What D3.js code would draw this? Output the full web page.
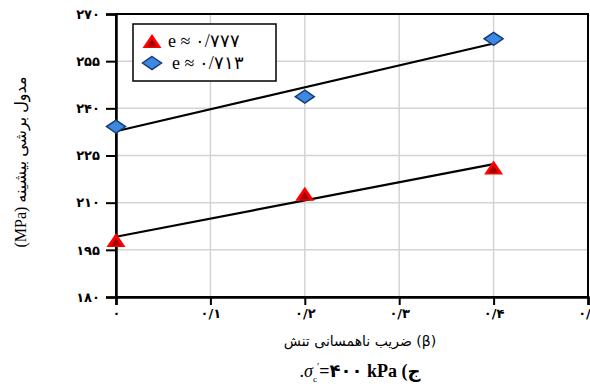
<!DOCTYPE html>
<html>
<head>
<meta charset="utf-8">
<script src="https://cdn.jsdelivr.net/npm/d3@7"></script>
<style>
  body { margin: 0; background: #fff; }
  svg { display: block; }
</style>
</head>
<body>
<div id="chart"></div>
<script>
// data
const beta = [0, 0.2, 0.4];
const gmaxE777 = [198.1, 212.8, 221.2];
const gmaxE713 = [234.2, 243.7, 262.1];
const seriesNames = ["e ≈ ۰/۷۷۷", "e ≈ ۰/۷۱۳"];

const xTicks = [0, 0.1, 0.2, 0.3, 0.4, 0.5];
const xTickLabels = ["۰", "۰/۱", "۰/۲", "۰/۳", "۰/۴", "۰/۵"];
const yTicks = [180, 195, 210, 225, 240, 255, 270];
const yTickLabels = ["۱۸۰", "۱۹۵", "۲۱۰", "۲۲۵", "۲۴۰", "۲۵۵", "۲۷۰"];

const W = 590, H = 391;
const margin = {top: 14, right: 2, bottom: 94, left: 116};
const width = W - margin.left - margin.right, height = H - margin.top - margin.bottom;

const svg = d3.select("#chart").append("svg")
  .attr("width", W).attr("height", H);

const g = svg.append("g")
  .attr("transform", `translate(${margin.left},${margin.top})`);

const xScale = d3.scaleLinear().domain([0, 0.5]).range([0, width]);
const yScale = d3.scaleLinear().domain([180, 270]).range([height, 0]);

// grid
g.append("g").selectAll("line")
  .data(yTicks.slice(1, -1))
  .join("line")
  .attr("x1", 0).attr("x2", width)
  .attr("y1", d => yScale(d)).attr("y2", d => yScale(d))
  .attr("stroke", "#d4d4d4").attr("stroke-width", 1.5);

g.append("g").selectAll("line")
  .data(xTicks.slice(1, -1))
  .join("line")
  .attr("y1", 0).attr("y2", height)
  .attr("x1", d => xScale(d)).attr("x2", d => xScale(d))
  .attr("stroke", "#d4d4d4").attr("stroke-width", 1.5);

// frame
g.append("rect")
  .attr("width", width).attr("height", height)
  .attr("fill", "none").attr("stroke", "#000").attr("stroke-width", 2);

// axes
const xAxis = d3.axisBottom(xScale)
  .tickValues(xTicks)
  .tickFormat((d, i) => xTickLabels[i])
  .tickSize(8).tickPadding(4);
const yAxis = d3.axisLeft(yScale)
  .tickValues(yTicks)
  .tickFormat((d, i) => yTickLabels[i])
  .tickSize(10).tickPadding(6);

const gx = g.append("g").attr("transform", `translate(0,${height})`).call(xAxis);
const gy = g.append("g").call(yAxis);

[gx, gy].forEach(a => {
  a.select(".domain").attr("stroke", "#000").attr("stroke-width", 2.5);
  a.selectAll(".tick line").attr("stroke", "#000").attr("stroke-width", 2);
  a.selectAll(".tick text")
    .attr("fill", "#000")
    .style("font-family", "'DejaVu Sans', sans-serif")
    .style("font-weight", "bold")
    .style("font-size", "13px");
});

// least-squares trend lines
function fit(xs, ys) {
  const mx = d3.mean(xs), my = d3.mean(ys);
  const slope = d3.sum(xs, (x, i) => (x - mx) * (ys[i] - my)) / d3.sum(xs, x => (x - mx) ** 2);
  return x => my + slope * (x - mx);
}

const line = d3.line().x(d => xScale(d[0])).y(d => yScale(d[1]));
[gmaxE777, gmaxE713].forEach(vals => {
  const f = fit(beta, vals);
  const ends = d3.extent(beta);
  g.append("path")
    .attr("d", line(ends.map(x => [x, f(x)])))
    .attr("fill", "none").attr("stroke", "#000").attr("stroke-width", 2.2);
});

// markers
const diaPath = "M0,-6.5L9.5,0L0,6.5L-9.5,0Z";

function triangle(sel) {
  sel.append("path").attr("d", "M0,-7L9.5,7L-9.5,7Z")
    .attr("fill", "#ff0000");
  sel.append("path").attr("d", "M0,-2L5,5.5L-5,5.5Z")
    .attr("fill", "#a00000");
}
function diamond(sel) {
  sel.append("path").attr("d", diaPath)
    .attr("fill", "#3f88e0").attr("stroke", "#163c78").attr("stroke-width", 1.5);
}

g.append("g").selectAll("g")
  .data(beta.map((b, i) => [b, gmaxE777[i]]))
  .join("g")
  .attr("transform", d => `translate(${xScale(d[0])},${yScale(d[1])})`)
  .call(triangle);

g.append("g").selectAll("g")
  .data(beta.map((b, i) => [b, gmaxE713[i]]))
  .join("g")
  .attr("transform", d => `translate(${xScale(d[0])},${yScale(d[1])})`)
  .call(diamond);

// legend
const legend = svg.append("g").attr("transform", "translate(133,24)");
legend.append("rect")
  .attr("width", 143).attr("height", 57)
  .attr("fill", "#fff").attr("stroke", "#000").attr("stroke-width", 1.5);
legend.append("g").attr("transform", "translate(19,17)").call(triangle);
legend.append("g").attr("transform", "translate(19,39)").call(diamond);
legend.selectAll("text.lab")
  .data(seriesNames)
  .join("text")
  .attr("class", "lab")
  .attr("x", (d, i) => i === 0 ? 35 : 39)
  .attr("y", (d, i) => 23 + i * 22)
  .style("font-family", "'Liberation Serif', 'DejaVu Serif', serif")
  .style("font-size", "18px")
  .text(d => d);

// axis titles
svg.append("text")
  .attr("transform", `translate(26,${margin.top + 148}) rotate(-90)`)
  .attr("text-anchor", "middle")
  .style("font-family", "'Liberation Serif', 'DejaVu Sans', serif")
  .style("font-size", "16px")
  .text("(MPa) مدول برشی بیشینه");

svg.append("text")
  .attr("x", 360).attr("y", 346)
  .attr("text-anchor", "middle")
  .style("font-family", "'DejaVu Sans', sans-serif")
  .style("font-size", "14px")
  .text("ضریب ناهمسانی تنش (β)");

// caption
const cap = svg.append("text")
  .attr("x", 360).attr("y", 377)
  .attr("text-anchor", "middle")
  .style("font-family", "'Liberation Serif', 'DejaVu Sans', serif")
  .style("font-size", "18px");
cap.append("tspan").text(".");
cap.append("tspan").style("font-style", "italic").text("σ");
cap.append("tspan").attr("dy", 5).style("font-size", "9px").text("c");
cap.append("tspan").attr("dy", -12).style("font-size", "10px").text("′");
cap.append("tspan").attr("dy", 7).style("font-weight", "bold").text("=۴۰۰ kPa (ج");
</script>
</body>
</html>
